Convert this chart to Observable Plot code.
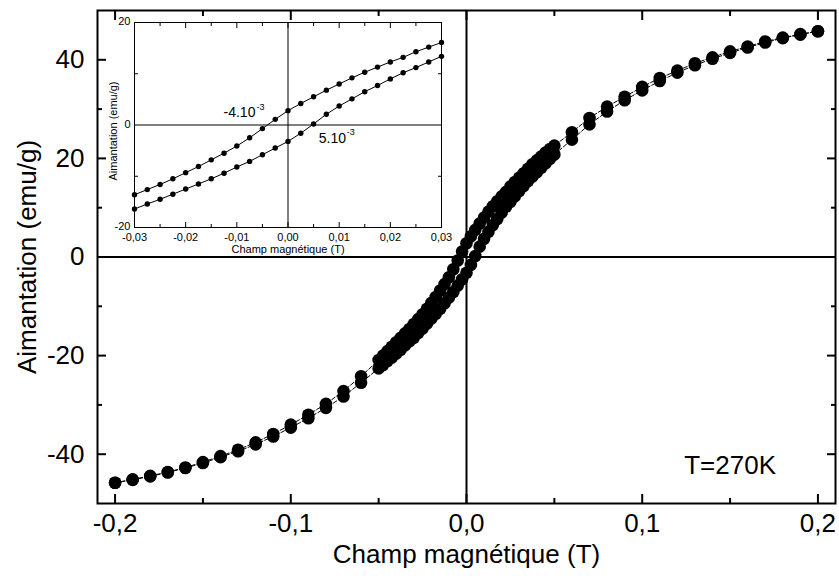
<!DOCTYPE html>
<html><head><meta charset="utf-8">
<script src="https://cdn.jsdelivr.net/npm/d3@7"></script>
<script src="https://cdn.jsdelivr.net/npm/@observablehq/plot@0.6"></script>
<style>
body{margin:0;background:#fff;}
#wrap{position:relative;width:839px;height:578px;background:#fff;}
#main{position:absolute;left:0;top:0;}
#inset{position:absolute;left:100px;top:12px;}
</style></head><body>
<div id="wrap"><div id="main"></div><div id="inset"></div></div>
<script>
// Magnetic field (T)
const field = [
  -0.20,-0.19,-0.18,-0.17,-0.16,-0.15,-0.14,-0.13,-0.12,-0.11,-0.10,-0.09,-0.08,-0.07,-0.06,
  -0.05,-0.0475,-0.045,-0.0425,-0.04,-0.0375,-0.035,-0.0325,
  -0.03,-0.0275,-0.025,-0.0225,-0.02,-0.0175,-0.015,-0.0125,-0.01,-0.0075,-0.005,-0.0025,
  0,0.0025,0.005,0.0075,0.01,0.0125,0.015,0.0175,0.02,0.0225,0.025,0.0275,0.03,
  0.0325,0.035,0.0375,0.04,0.0425,0.045,0.0475,0.05,
  0.06,0.07,0.08,0.09,0.10,0.11,0.12,0.13,0.14,0.15,0.16,0.17,0.18,0.19,0.20
];
// Magnetization (emu/g), descending branch (upper)
const descending = [
  -45.8,-45.1,-44.4,-43.6,-42.7,-41.6,-40.4,-39.1,-37.6,-35.9,-34.0,-32.0,-29.8,-27.2,-24.2,
  -20.9,-20.0,-19.1,-18.2,-17.3,-16.4,-15.5,-14.6,
  -13.6,-12.6,-11.6,-10.5,-9.3,-8.1,-6.8,-5.5,-4.1,-2.5,-0.7,1.1,
  2.8,4.2,5.5,6.8,8.0,9.2,10.3,11.3,12.3,13.2,14.3,15.2,16.1,
  17.0,17.9,18.8,19.6,20.4,21.2,21.9,22.6,
  25.3,28.2,30.5,32.5,34.5,36.3,37.8,39.3,40.5,41.7,42.7,43.7,44.5,45.2,45.8
];
// Magnetization (emu/g), ascending branch (lower)
const ascending = [
  -45.8,-45.2,-44.5,-43.7,-42.8,-41.8,-40.6,-39.4,-38.0,-36.4,-34.6,-32.7,-30.6,-28.3,-25.5,
  -22.6,-21.9,-21.1,-20.4,-19.6,-18.8,-17.9,-17.1,
  -16.4,-15.4,-14.5,-13.5,-12.5,-11.5,-10.5,-9.4,-8.2,-7.1,-5.8,-4.5,
  -3.2,-1.6,0.2,2.1,3.7,5.1,6.5,7.7,9.0,10.2,11.2,12.3,13.4,
  14.4,15.4,16.3,17.2,18.1,19.0,19.9,20.8,
  23.8,26.9,29.5,31.8,33.8,35.7,37.4,38.9,40.2,41.4,42.5,43.5,44.4,45.1,45.8
];

const xTicksMain = [-0.2,-0.1,0,0.1,0.2];
const xMinorMain = [-0.15,-0.05,0.05,0.15];
const yTicksMain = [-40,-20,0,20,40];
const yMinorMain = [-30,-10,10,30];

const xTicksInset = [-0.03,-0.02,-0.01,0,0.01,0.02,0.03];
const xMinorInset = [-0.025,-0.015,-0.005,0.005,0.015,0.025];
const yTicksInset = [-20,0,20];
const yMinorInset = [-10,10];

const annX = [-0.0126, 0.0060];
const annY = [2.4, -2.6];
const annText = ["-4.10", "5.10"];
const annSup = ["-3", "-3"];

const tempX = [0.150];
const tempY = [-42.3];
const tempText = ["T=270K"];

const xTitle = "Champ magnétique (T)";
const yTitle = "Aimantation (emu/g)";

const rows = field.map((f, i) => ({field: f, m: descending[i], branch: "desc"}))
  .concat(field.map((f, i) => ({field: f, m: ascending[i], branch: "asc"})));
const insetRows = rows.filter(d => Math.abs(d.field) <= 0.03001);
const ann = annX.map((x, i) => ({x, y: annY[i], text: annText[i], sup: annSup[i]}));
const temp = tempX.map((x, i) => ({x, y: tempY[i], text: tempText[i]}));

const FONT = "'Liberation Sans', Arial, Helvetica, sans-serif";
const fmt1 = d => d.toFixed(1).replace(".", ",");
const fmt2 = d => d.toFixed(2).replace(".", ",");
const fmtY = d => String(d);

const main = Plot.plot({
  width: 839, height: 578,
  marginLeft: 97, marginRight: 4, marginTop: 10, marginBottom: 75,
  x: {domain: [-0.21, 0.21], label: null},
  y: {domain: [-50, 50], label: null},
  style: {fontFamily: FONT, background: "transparent", color: "black"},
  marks: [
    Plot.ruleX([0], {strokeWidth: 2}),
    Plot.ruleY([0], {strokeWidth: 2}),
    Plot.line(rows, {x: "field", y: "m", z: "branch", stroke: "black", strokeWidth: 1, strokeDasharray: "4,2"}),
    Plot.dot(rows, {x: "field", y: "m", r: 6.3, fill: "black"}),
    Plot.frame({strokeWidth: 2}),
    Plot.axisX({ticks: xTicksMain, anchor: "bottom", tickSize: -9, text: null, label: null, strokeWidth: 2}),
    Plot.axisX({ticks: xTicksMain, anchor: "top", tickSize: -9, text: null, label: null, strokeWidth: 2}),
    Plot.axisX({ticks: xMinorMain, anchor: "bottom", tickSize: -5, text: null, label: null, strokeWidth: 2}),
    Plot.axisX({ticks: xMinorMain, anchor: "top", tickSize: -5, text: null, label: null, strokeWidth: 2}),
    Plot.axisY({ticks: yTicksMain, anchor: "left", tickSize: -9, text: null, label: null, strokeWidth: 2}),
    Plot.axisY({ticks: yTicksMain, anchor: "right", tickSize: -9, text: null, label: null, strokeWidth: 2}),
    Plot.axisY({ticks: yMinorMain, anchor: "left", tickSize: -5, text: null, label: null, strokeWidth: 2}),
    Plot.axisY({ticks: yMinorMain, anchor: "right", tickSize: -5, text: null, label: null, strokeWidth: 2}),
    Plot.axisX({ticks: xTicksMain, anchor: "bottom", tickSize: 0, tickPadding: 10, tickFormat: fmt1, fontSize: 26, label: null}),
    Plot.axisY({ticks: yTicksMain, anchor: "left", tickSize: 0, tickPadding: 13, tickFormat: fmtY, fontSize: 26, label: null}),
    Plot.text([xTitle], {text: d => d, frameAnchor: "bottom", dy: 51, textAnchor: "middle", lineAnchor: "middle", fontSize: 26}),
    Plot.text([yTitle], {text: d => d, frameAnchor: "left", dx: -70, rotate: -90, textAnchor: "middle", lineAnchor: "middle", fontSize: 26}),
    Plot.text(temp, {x: "x", y: "y", text: "text", fontSize: 26, lineAnchor: "middle"})
  ]
});
document.getElementById("main").append(main);

const inset = Plot.plot({
  width: 370, height: 250,
  marginLeft: 34, marginRight: 29, marginTop: 10, marginBottom: 35,
  x: {domain: [-0.03, 0.03], label: null},
  y: {domain: [-20, 20], label: null},
  style: {fontFamily: FONT, background: "transparent", color: "black"},
  marks: [
    Plot.ruleX([0], {strokeWidth: 1}),
    Plot.ruleY([0], {strokeWidth: 1}),
    Plot.line(insetRows, {x: "field", y: "m", z: "branch", stroke: "black", strokeWidth: 1}),
    Plot.dot(insetRows, {x: "field", y: "m", r: 2.7, fill: "black"}),
    Plot.frame({strokeWidth: 1}),
    Plot.axisX({ticks: xTicksInset, anchor: "bottom", tickSize: -5, text: null, label: null}),
    Plot.axisX({ticks: xTicksInset, anchor: "top", tickSize: -5, text: null, label: null}),
    Plot.axisX({ticks: xMinorInset, anchor: "bottom", tickSize: -3, text: null, label: null}),
    Plot.axisX({ticks: xMinorInset, anchor: "top", tickSize: -3, text: null, label: null}),
    Plot.axisY({ticks: yMinorInset, anchor: "left", tickSize: -4, text: null, label: null}),
    Plot.axisY({ticks: yMinorInset, anchor: "right", tickSize: -4, text: null, label: null}),
    Plot.axisX({ticks: xTicksInset, anchor: "bottom", tickSize: 0, tickPadding: 6, tickFormat: fmt2, fontSize: 11, label: null}),
    Plot.axisY({ticks: yTicksInset, anchor: "left", tickSize: 0, tickPadding: 4, dy: -1, tickFormat: fmtY, fontSize: 11, label: null}),
    Plot.text([xTitle], {text: d => d, frameAnchor: "bottom", dy: 22, textAnchor: "middle", lineAnchor: "middle", fontSize: 11}),
    Plot.text([yTitle], {text: d => d, frameAnchor: "left", dx: -21, dy: 6, rotate: -90, textAnchor: "middle", lineAnchor: "middle", fontSize: 11}),
    Plot.text(ann, {x: "x", y: "y", text: "text", textAnchor: "start", lineAnchor: "middle", fontSize: 14}),
    Plot.text(ann.slice(0, 1), {x: "x", y: "y", text: "sup", textAnchor: "start", lineAnchor: "middle", fontSize: 9, dx: 33, dy: -6}),
    Plot.text(ann.slice(1), {x: "x", y: "y", text: "sup", textAnchor: "start", lineAnchor: "middle", fontSize: 9, dx: 28, dy: -6})
  ]
});
document.getElementById("inset").append(inset);
</script>
</body></html>
